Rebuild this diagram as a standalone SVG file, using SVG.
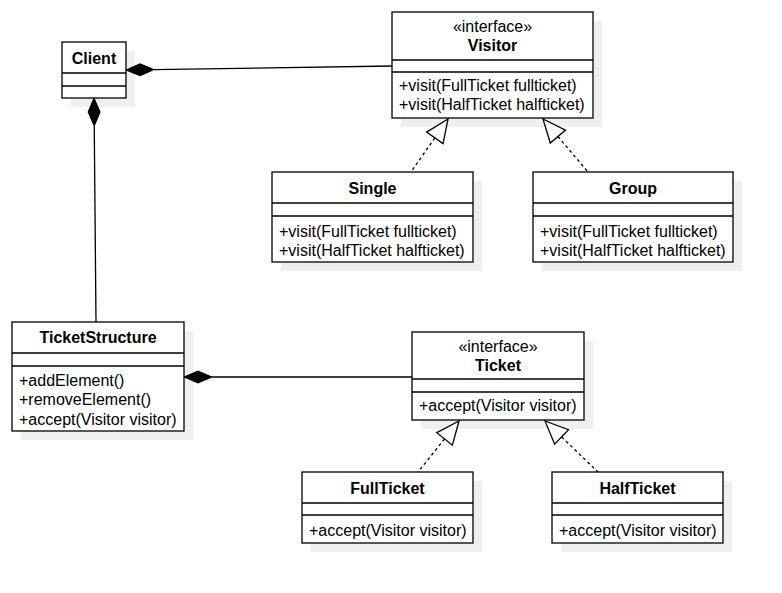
<svg xmlns="http://www.w3.org/2000/svg" width="782" height="593" viewBox="0 0 782 593">
<style>
.sh{fill:#efefef;stroke:none}
.box{fill:#ffffff;stroke:#000000;stroke-width:1.3}
.div{stroke:#000000;stroke-width:1.3}
.nm{font-family:"Liberation Sans",Arial,sans-serif;font-size:16px;font-weight:bold;fill:#000000;text-anchor:middle}
.st{font-family:"Liberation Sans",Arial,sans-serif;font-size:16px;fill:#000000;text-anchor:middle}
.mt{font-family:"Liberation Sans",Arial,sans-serif;font-size:16px;fill:#000000}
.ln{fill:none;stroke:#000000;stroke-width:1.3}
.dash{fill:none;stroke:#000000;stroke-width:1.3;stroke-dasharray:3 3}
.dia{fill:#000000;stroke:#000000;stroke-width:1}
.tri{fill:#ffffff;stroke:#000000;stroke-width:1.3;stroke-linejoin:miter}
</style>
<rect width="782" height="593" fill="#ffffff"/>

<g id="client">
<rect class="sh" x="71" y="51" width="64" height="56"/>
<rect class="box" x="62" y="42" width="64" height="56"/>
<line class="div" x1="62" y1="73" x2="126" y2="73"/>
<line class="div" x1="62" y1="86" x2="126" y2="86"/>
<text class="nm" x="94" y="64">Client</text>
</g>

<g id="visitor">
<rect class="sh" x="401" y="21" width="201" height="106"/>
<rect class="box" x="392" y="12" width="201" height="106"/>
<line class="div" x1="392" y1="60" x2="593" y2="60"/>
<line class="div" x1="392" y1="72" x2="593" y2="72"/>
<text class="st" x="492.5" y="32">«interface»</text>
<text class="nm" x="492.5" y="51">Visitor</text>
<text class="mt" x="399" y="90.5">+visit(FullTicket fullticket)</text>
<text class="mt" x="399" y="110">+visit(HalfTicket halfticket)</text>
</g>

<g id="single">
<rect class="sh" x="281" y="181" width="201" height="90"/>
<rect class="box" x="272" y="172" width="201" height="90"/>
<line class="div" x1="272" y1="203" x2="473" y2="203"/>
<line class="div" x1="272" y1="216" x2="473" y2="216"/>
<text class="nm" x="372.5" y="193.5">Single</text>
<text class="mt" x="279" y="236.5">+visit(FullTicket fullticket)</text>
<text class="mt" x="279" y="255.5">+visit(HalfTicket halfticket)</text>
</g>

<g id="group">
<rect class="sh" x="542" y="181" width="200" height="90"/>
<rect class="box" x="533" y="172" width="200" height="90"/>
<line class="div" x1="533" y1="203" x2="733" y2="203"/>
<line class="div" x1="533" y1="216" x2="733" y2="216"/>
<text class="nm" x="633" y="193.5">Group</text>
<text class="mt" x="540" y="236.5">+visit(FullTicket fullticket)</text>
<text class="mt" x="540" y="255.5">+visit(HalfTicket halfticket)</text>
</g>

<g id="ticketstructure">
<rect class="sh" x="21" y="331" width="172" height="109"/>
<rect class="box" x="12" y="322" width="172" height="109"/>
<line class="div" x1="12" y1="353" x2="184" y2="353"/>
<line class="div" x1="12" y1="366" x2="184" y2="366"/>
<text class="nm" x="98" y="343">TicketStructure</text>
<text class="mt" x="19" y="386">+addElement()</text>
<text class="mt" x="19" y="405">+removeElement()</text>
<text class="mt" x="19" y="424.5">+accept(Visitor visitor)</text>
</g>

<g id="ticket">
<rect class="sh" x="421" y="341" width="172" height="88"/>
<rect class="box" x="412" y="332" width="172" height="88"/>
<line class="div" x1="412" y1="379" x2="584" y2="379"/>
<line class="div" x1="412" y1="392" x2="584" y2="392"/>
<text class="st" x="498" y="352">«interface»</text>
<text class="nm" x="498" y="370.5">Ticket</text>
<text class="mt" x="419" y="410.5">+accept(Visitor visitor)</text>
</g>

<g id="fullticket">
<rect class="sh" x="311" y="481" width="171" height="71"/>
<rect class="box" x="302" y="472" width="171" height="71"/>
<line class="div" x1="302" y1="503" x2="473" y2="503"/>
<line class="div" x1="302" y1="515" x2="473" y2="515"/>
<text class="nm" x="387.5" y="493.5">FullTicket</text>
<text class="mt" x="309" y="535.5">+accept(Visitor visitor)</text>
</g>

<g id="halfticket">
<rect class="sh" x="561" y="481" width="171" height="71"/>
<rect class="box" x="552" y="472" width="171" height="71"/>
<line class="div" x1="552" y1="503" x2="723" y2="503"/>
<line class="div" x1="552" y1="515" x2="723" y2="515"/>
<text class="nm" x="637.5" y="493.5">HalfTicket</text>
<text class="mt" x="559" y="535.5">+accept(Visitor visitor)</text>
</g>

<g id="connectors">
<path class="ln" d="M154,69.6 L392,66"/>
<polygon class="dia" points="126,70 140,75.8 154,69.6 140,63.8"/>
<path class="ln" d="M94.25,126 L96,322"/>
<polygon class="dia" points="94,98 100.1,112 94.25,126 88.1,112"/>
<path class="ln" d="M212,377 L412,377"/>
<polygon class="dia" points="184,377 198,371 212,377 198,383"/>
<path class="dash" d="M434.8,137.9 L411,172"/>
<polygon class="tri" points="448,119 443.03,143.58 426.63,132.14"/>
<path class="dash" d="M557.9,136.5 L588,172"/>
<polygon class="tri" points="543,119 565.51,130.06 550.27,143"/>
<path class="dash" d="M444.6,438.9 L418,472"/>
<polygon class="tri" points="459,421 452.38,445.19 436.8,432.65"/>
<path class="dash" d="M561.6,437 L598,472"/>
<polygon class="tri" points="545,421 568.5,429.74 554.64,444.16"/>
</g>
</svg>
